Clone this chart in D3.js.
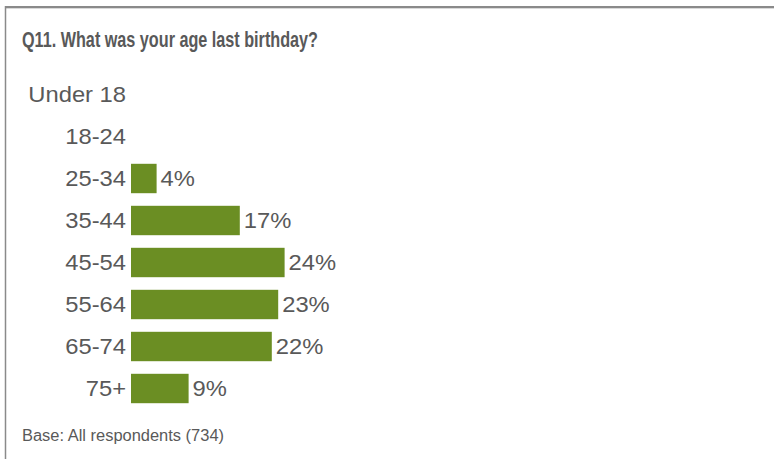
<!DOCTYPE html>
<html>
<head>
<meta charset="utf-8">
<script src="https://cdn.jsdelivr.net/npm/d3@7/dist/d3.min.js"></script>
<style>
  html, body { margin: 0; padding: 0; background: #fff; }
  svg { display: block; font-family: "Liberation Sans", Arial, sans-serif; }
</style>
</head>
<body>
<svg id="chart" width="774" height="459"></svg>
<script>
const categories = ["Under 18", "18-24", "25-34", "35-44", "45-54", "55-64", "65-74", "75+"];
const values = [0, 0, 4, 17, 24, 23, 22, 9];
const titleText = "Q11. What was your age last birthday?";
const footerText = "Base: All respondents (734)";

const svg = d3.select("#chart");
const W = 774, H = 459;
const textColor = "#595959";
const barColor = "#6B8E23";
const stretch = 1.08;
const fs = 22;

// frame lines
svg.append("line").attr("x1", 5).attr("x2", W).attr("y1", 7).attr("y2", 7)
  .attr("stroke", "#8a8a8a").attr("stroke-width", 2);
svg.append("line").attr("x1", 5).attr("x2", W).attr("y1", 8.5).attr("y2", 8.5)
  .attr("stroke", "#d9d9d9").attr("stroke-width", 1);
svg.append("line").attr("x1", 5.5).attr("x2", 5.5).attr("y1", 6).attr("y2", H)
  .attr("stroke", "#8a8a8a").attr("stroke-width", 1.5);

// title
svg.append("text").attr("x", 22).attr("y", 47)
  .attr("font-size", 22).attr("font-weight", "bold").attr("fill", textColor)
  .attr("textLength", 296).attr("lengthAdjust", "spacingAndGlyphs")
  .text(titleText);

const x0 = 131;
const x = d3.scaleLinear().domain([0, 100]).range([x0, x0 + 640]);
const y = d3.scaleBand().domain(categories).range([73.5, 409.5]).paddingInner(0.3).paddingOuter(0.15);

// axis labels
const axis = d3.axisLeft(y).tickSize(0).tickPadding(0);
const gAxis = svg.append("g").attr("transform", `translate(${x0},0)`).call(axis);
gAxis.attr("font-size", null).attr("font-family", null);
gAxis.select(".domain").remove();
gAxis.selectAll(".tick text")
  .style("font-size", fs + "px")
  .style("font-family", "'Liberation Sans', Arial, sans-serif")
  .attr("fill", textColor)
  .attr("x", -5 / stretch)
  .attr("dy", "0.35em")
  .attr("transform", `scale(${stretch},1)`);

// bars
const data = categories.map((c, i) => ({ c, v: values[i] }));
svg.append("g").selectAll("rect")
  .data(data.filter(d => d.v > 0))
  .join("rect")
  .attr("x", x(0))
  .attr("y", d => y(d.c))
  .attr("width", d => x(d.v) - x(0))
  .attr("height", y.bandwidth())
  .attr("fill", barColor);

// value labels
svg.append("g").selectAll("g")
  .data(data.filter(d => d.v > 0))
  .join("g")
  .attr("transform", d => `translate(${x(d.v) + 4},${y(d.c) + y.bandwidth() / 2}) scale(${stretch},1)`)
  .append("text")
  .style("font-size", fs + "px")
  .attr("fill", textColor)
  .attr("dy", "0.35em")
  .text(d => d.v + "%");

// footer
svg.append("text").attr("x", 22).attr("y", 441)
  .attr("font-size", 16).attr("fill", textColor)
  .attr("textLength", 202).attr("lengthAdjust", "spacingAndGlyphs")
  .text(footerText);
</script>
</body>
</html>
